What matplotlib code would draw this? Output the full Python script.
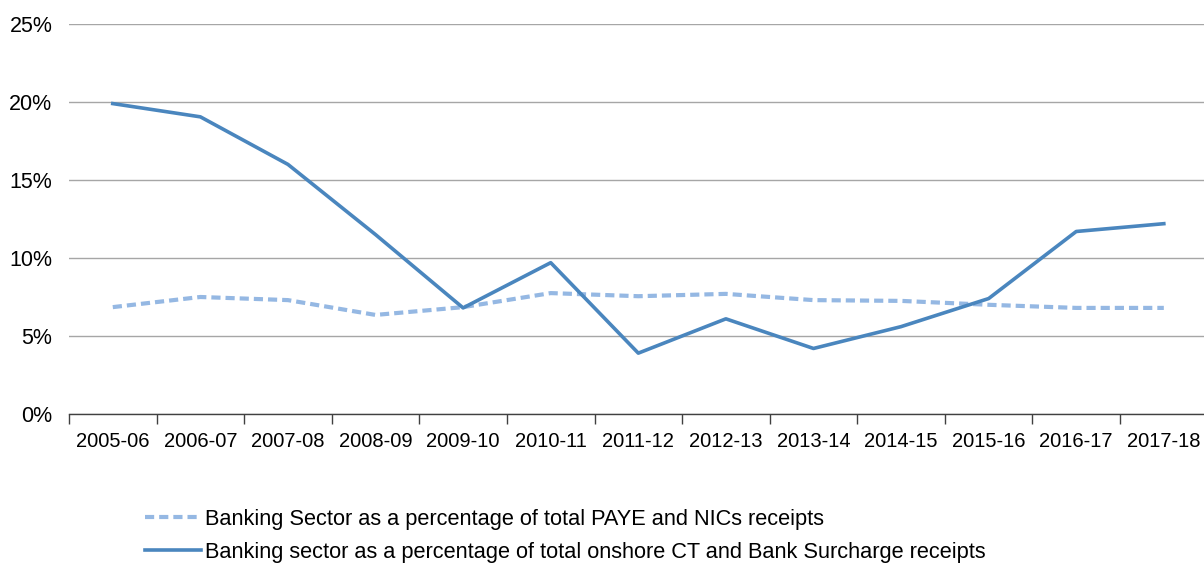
import matplotlib.pyplot as plt
from matplotlib.ticker import FuncFormatter, FixedLocator

# Data
years = ['2005-06', '2006-07', '2007-08', '2008-09', '2009-10', '2010-11', '2011-12',
         '2012-13', '2013-14', '2014-15', '2015-16', '2016-17', '2017-18']
paye_nics = [6.85, 7.5, 7.3, 6.35, 6.85, 7.75, 7.55, 7.7, 7.3, 7.25, 7.0, 6.8, 6.8]
ct_surcharge = [19.9, 19.05, 16.0, 11.5, 6.8, 9.7, 3.9, 6.1, 4.2, 5.6, 7.4, 11.7, 12.2]

plt.rcParams['font.family'] = ['Liberation Sans', 'DejaVu Sans']

fig = plt.figure(figsize=(12.04, 5.63), dpi=100)
ax = fig.add_axes([0.0573, 0.2647, 0.9457, 0.6926])

x = list(range(len(years)))
l1, = ax.plot(x, paye_nics, color='#95b8e3', linewidth=3, linestyle=(0, (2.2, 1.2)),
              label='Banking Sector as a percentage of total PAYE and NICs receipts')
l2, = ax.plot(x, ct_surcharge, color='#4a86be', linewidth=2.6,
              label='Banking sector as a percentage of total onshore CT and Bank Surcharge receipts')

ax.set_xlim(-0.5, len(years) - 0.5)
ax.set_ylim(0, 25)
ax.set_yticks([0, 5, 10, 15, 20, 25])
ax.yaxis.set_major_formatter(FuncFormatter(lambda v, p: f'{v:.0f}%'))
ax.grid(axis='y', color='#a6a6a6', linewidth=1)
ax.set_axisbelow(True)

ax.set_xticks(x)
ax.set_xticklabels(years)
ax.xaxis.set_minor_locator(FixedLocator([i - 0.5 for i in range(len(years) + 1)]))
ax.tick_params(axis='x', which='major', length=0, pad=13, labelsize=14.5)
ax.tick_params(axis='x', which='minor', length=7, width=1, color='#404040', direction='out')
ax.tick_params(axis='y', length=0, pad=12, labelsize=15.5)

for s in ['top', 'right', 'left']:
    ax.spines[s].set_visible(False)
ax.spines['bottom'].set_color('#404040')
ax.spines['bottom'].set_linewidth(1)

fig.legend(handles=[l1, l2], loc='upper left', bbox_to_anchor=(0.113, 0.112),
           frameon=False, fontsize=15.7, handlelength=2.6, handletextpad=0.15,
           labelspacing=0.55, borderaxespad=0)

fig.savefig('out.png', dpi=100)
